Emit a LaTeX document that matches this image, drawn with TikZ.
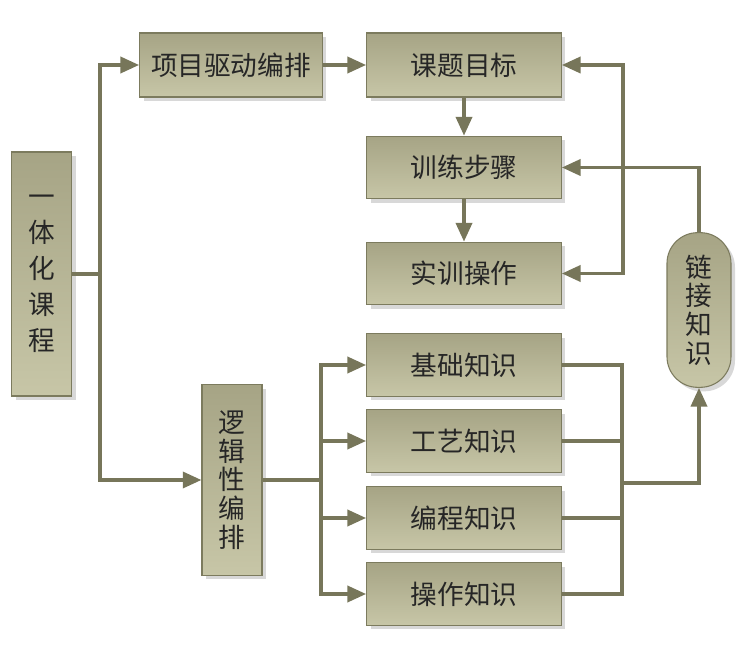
\documentclass[tikz,border=0pt]{standalone}
\usepackage{fontspec}
\newfontfamily\cjk{Noto Sans CJK SC}
\usepackage{xcolor}
\usepackage{tikz}
\usetikzlibrary{positioning,shapes,shadows,arrows.meta}

\definecolor{boxtop}{HTML}{A6A485}
\definecolor{boxbot}{HTML}{C7C6A7}
\definecolor{boxedge}{HTML}{7C7B5E}
\definecolor{wire}{HTML}{77765A}

\tikzset{
  blk/.style={draw=boxedge, line width=0.8pt, top color=boxtop, bottom color=boxbot,
    drop shadow={shadow xshift=3pt, shadow yshift=-3pt, fill=black!30},
    font=\cjk\fontsize{20}{23}\selectfont, text=black!85, inner sep=0pt},
  wide/.style={blk, minimum width=146pt, minimum height=47pt},
  tall/.style={blk, align=center, minimum width=45pt},
  wire/.style={draw=wire, line width=2.6pt},
  arr/.style={wire, -{Triangle[length=14pt,width=12pt]}}
}

\begin{document}
\begin{tikzpicture}[x=0.75pt, y=-0.75pt]
  \useasboundingbox (0,0) rectangle (751,663);
  % left column
  \node[tall, minimum height=183pt, font=\cjk\fontsize{20}{27}\selectfont] (ythkc) at (41.5,274) {一\\体\\化\\课\\程};
  \node[tall, minimum height=143pt, font=\cjk\fontsize{20}{21.5}\selectfont] (ljxbp) at (232,480) {逻\\辑\\性\\编\\排};
  \node[blk, minimum width=137pt, minimum height=48pt] (xmqd) at (231,65) {项目驱动编排};
  % project track
  \node[wide, minimum height=48pt] (ktmb) at (464,65) {课题目标};
  \node[wide] (xlbz) at (464,167.5) {训练步骤};
  \node[wide] (sxcz) at (464,273.5) {实训操作};
  % knowledge track
  \node[wide] (jczs) at (464,365) {基础知识};
  \node[wide] (gyzs) at (464,441) {工艺知识};
  \node[wide] (bczs) at (464,518) {编程知识};
  \node[wide] (czzs) at (464,594) {操作知识};
  \node[tall, minimum width=48pt, minimum height=116pt, rounded corners=23pt,
    font=\cjk\fontsize{20}{21.5}\selectfont] (ljzs) at (699,310) {链\\接\\知\\识};
  % helper points
  \coordinate (split) at (100,274);
  \coordinate (fork) at (321,480);
  \coordinate (bar) at (623,167.5);
  \coordinate (join) at (622,483);
  % connectors
  \draw[wire] (ythkc.east) -- (split);
  \draw[arr] (split) |- (xmqd.west);
  \draw[arr] (split) |- (ljxbp.west);
  \draw[arr] (xmqd.east) -- (ktmb.west);
  \draw[arr] (ktmb.south) -- (xlbz.north);
  \draw[arr] (xlbz.south) -- (sxcz.north);
  \draw[arr] (bar) |- (ktmb.east);
  \draw[arr] (bar) |- (sxcz.east);
  \draw[arr] (ljzs.north) |- (xlbz.east);
  \draw[wire] (ljxbp.east) -- (fork);
  \foreach \k in {jczs,gyzs,bczs,czzs} {
    \draw[arr] (fork) |- (\k.west);
    \draw[wire] (\k.east) -| (join);
  }
  \draw[arr] (join) -| (ljzs.south);
\end{tikzpicture}
\end{document}
